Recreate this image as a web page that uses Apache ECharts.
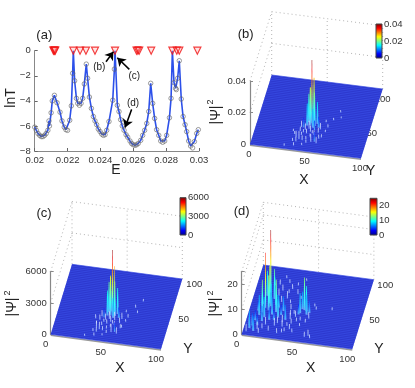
<!DOCTYPE html>
<html>
<head>
<meta charset="utf-8">
<style>html,body{margin:0;background:#fff}#chart{width:415px;height:388px}</style>
<script src="https://cdn.jsdelivr.net/npm/echarts@6/dist/echarts.min.js"></script>
</head>
<body>
<div id="chart"></div>
<script>
// panel (a): circles
const sampleE = [.0200,.0201,.0202,.0203,.0204,.0205,.0206,.0207,.0208,.0209,.0210,.02087,.02107,.0212,.02136,.02154,.02166,.0218,.0219,.0220,.02213,.02223,.02231,.02243,.02254,.02262,.02272,.02282,.02292,.02302,.02314,.02322,.02333,.02345,.02357,.02367,.02377,.02387,.02398,.02408,.02418,.02428,.02438,.02452,.02475,.02485,.02503,.02513,.02523,.02533,.02544,.02556,.02566,.0258,.0259,.026,.0261,.0262,.0263,.02645,.02657,.02669,.02682,.02694,.02706,.02718,.0273,.02742,.02755,.02767,.02779,.02791,.02803,.0282,.0283,.02848,.02858,.02862,.0287,.0288,.02892,.02903,.02915,.02925,.02937,.02949,.02961,.02972,.02986,.02996]
const sampleT = [-6.1,-6.35,-6.6,-6.75,-6.85,-6.85,-6.75,-6.6,-6.35,-6.0,-4.95,-5.6,-4.0,-3.56,-4.15,-4.9,-5.6,-6.1,-6.3,-6.35,-5.55,-4.4,-1.8,-2.4,-3.8,-4.2,-4.35,-4.2,-3.8,-2.65,-1.07,-2.2,-3.7,-4.6,-5.25,-5.6,-5.9,-6.25,-6.45,-6.65,-6.75,-6.7,-6.35,-5.65,-3.95,-1.47,-4.35,-4.85,-5.5,-6,-6.35,-6.7,-6.9,-7.2,-7.4,-7.5,-7.55,-7.5,-7.4,-7.15,-6.75,-6.35,-5.8,-4.85,-2.6,-4.2,-5.4,-6.3,-6.75,-7.2,-7.3,-7.2,-6.75,-5.35,-3.8,-2.55,-3.0,-3.1,-2.2,-0.8,-3.85,-5.25,-5.9,-6.45,-7.2,-7.6,-7.75,-7.25,-6.6,-6.3]
// line vertices at the resonance tops, between the circles
const topE = [.02235,.02489,.02838]
const topT = [0,0,0]
const resonanceE = [.02114,.02118,.02122,.02125,.02235,.02276,.02312,.02367,.02489,.0262,.02628,.02636,.02709,.02838,.02865,.0288,.0299]

// panels (b), (c), (d): peaks of |psi|^2 as [X, Y, height]
const peaksB = [[48,40,.04],[46,43,.021],[47,37,.024],[49.5,42,.028],[51,37,.021],[44.5,36,.014],[53,40,.014],[45,41,.018],[50,34,.012],[42,33,.006],[55,35,.007],[47,32,.005],[52,31,.006],[44,30,.004],[49,28,.004],[40,27,.003],[56,28,.003],[46,25,.003],[53,24,.003],[42,22,.002],[50,21,.002],[38,18,.004],[41,16,.005],[44,15,.003],[52,14,.005],[55,15,.006],[57,13,.004],[48,12,.002],[36,12,.002],[60,22,.002],[63,37,.002],[66,48,.0015],[70,60,.0015],[72,52,.0012],[30,4,.0015],[38,6,.002],[45,8,.0015],[60,44,.0015],[40,33,.004],[57,33,.004],[43,26,.002],[51,26,.002],[36,22,.002],[58,20,.0025],[39,12,.003],[47,17,.002],[62,30,.0015],[34,26,.0015]]
const peaksC = [[48,41,6000],[46,43,3400],[47,37,3700],[49.5,42,4400],[51,37,3300],[44.5,36,2400],[53,40,2500],[45,41,2900],[50,34,1900],[42,33,900],[55,35,1000],[47,32,700],[52,31,800],[44,30,600],[49,28,600],[39,29,500],[57,28,500],[46,25,400],[53,24,400],[42,22,350],[50,21,300],[38,18,600],[41,16,700],[44,15,400],[52,14,800],[55,15,900],[57,13,600],[48,12,300],[36,12,300],[60,22,300],[63,37,350],[67,52,300],[72,62,250],[70,45,250],[30,4,200],[38,6,300],[45,8,200],[60,44,250],[40,34,600],[58,34,600],[35,30,400],[43,27,300],[51,26,350],[37,23,300],[59,21,400],[39,12,450],[47,18,300],[62,31,250]]
const peaksD = [[14,63,25],[13.5,41,22],[48,45,13],[16,48,15],[17,38,14],[12,34,13],[19,55,12],[24,37,13],[27,30,9],[10,30,8],[22,47,8],[15,28,8],[30,40,6],[34,28,6],[20,25,5],[7,14,5],[5,10,7],[9,7,6],[11,16,4],[3,5,3],[8,22,4],[26,18,3],[33,18,2.5],[38,30,2.5],[40,24,2],[36,44,2],[30,58,3],[24,68,2.5],[32,72,2],[38,66,2],[28,80,1.5],[42,86,1],[20,76,2],[18,18,3],[22,10,2],[30,8,2],[14,5,2],[45,40,8],[46,46,7],[50,44,10],[51,39,8],[44,38,4],[53,42,5],[42,34,2.5],[54,34,2.5],[47,30,1.5],[52,28,1.5],[40,16,2],[43,12,1.5],[55,8,2],[58,10,2.5],[60,7,1.5],[48,22,1.2],[72,50,1.2],[36,12,1.5],[56,52,1.2],[12,58,10],[18,44,9],[21,33,7],[14,22,6],[6,18,3],[25,44,5],[29,34,4],[32,24,3],[37,36,2],[26,52,2.5],[22,60,3],[34,52,1.5],[42,60,1.2],[30,66,1.5],[36,78,1.2],[24,86,1.2],[16,74,4],[10,46,5],[8,36,4],[4,14,3],[12,10,3],[16,12,2],[24,26,4],[28,22,2.5],[37,20,1.5],[34,10,1.5],[44,28,1.5],[40,38,1.5],[58,48,1.2]]

const zTicksB = [0, .02, .04]
const zTicksC = [0, 3000, 6000]
const zTicksD = [0, 10, 20]
const planeTicks = [0, 50, 100]

const FONT = '"Liberation Sans", Arial, sans-serif'
const JET = [[0,'#00008f'],[.125,'#0000ff'],[.375,'#00ffff'],[.625,'#ffff00'],[.875,'#ff0000'],[1,'#800000']]

const panels = [
  { name: '(b)', peaks: peaksB, zMax: .04, zTicks: zTicksB, O: [250, 144.3], vx: [111, 14], vy: [21.7, -69.3], h: 63.3,
    xOff: [-1, 10.5], yOff: [0, 10], bar: [376, 24, 6, 34], nameAt: [245.7, 34], xAt: [304, 180], yAt: [370.7, 171], psi: [215.7, 115], sup: [211, 102] },
  { name: '(c)', peaks: peaksC, zMax: 6000, zTicks: zTicksC, O: [50.7, 334.3], vx: [110.3, 14.7], vy: [21.3, -70], h: 62.7,
    xOff: [-5, 10.5], yOff: [12, 5.7], bar: [180, 197.7, 6, 37.3], nameAt: [44, 213], xAt: [120, 368], yAt: [188, 349.3], psi: [12.3, 307], sup: [8, 293] },
  { name: '(d)', peaks: peaksD, zMax: 25, zTicks: zTicksD, O: [241.7, 334.3], vx: [110.6, 14.7], vy: [21.6, -69.3], h: 62.7,
    xOff: [-5, 10.5], yOff: [11.4, 5.7], bar: [370, 198.3, 7, 36.7], nameAt: [241.7, 211.7], xAt: [310.7, 367.7], yAt: [379, 349], psi: [215, 307], sup: [210.5, 293] }
]

function project(p, X, Y, Z) {
  return [
    p.O[0] + p.vx[0] * X / 100 + p.vy[0] * Y / 100,
    p.O[1] + p.vx[1] * X / 100 + p.vy[1] * Y / 100 - p.h * Z / p.zMax
  ]
}

function jetAt(t) {
  for (let i = 1; i < JET.length; i++) {
    if (t <= JET[i][0]) {
      const r = (t - JET[i - 1][0]) / (JET[i][0] - JET[i - 1][0])
      return echarts.color.lerp(r, [JET[i - 1][1], JET[i][1]])
    }
  }
  return JET[JET.length - 1][1]
}

function spikeFill(frac) {
  if (frac < .15) {
    return new echarts.graphic.LinearGradient(0, 1, 0, 0, [{ offset: 0, color: '#7f9cf8' }, { offset: 1, color: '#eef3ff' }])
  }
  const stops = [{ offset: 0, color: '#6f9cf8' }]
  for (let i = 1; i <= 6; i++) {
    const t = i / 6
    const c = jetAt(.28 + (frac - .28) * t)
    stops.push({ offset: t, color: echarts.color.lerp(.3 * (1 - t), [c, '#ffffff']) })
  }
  return new echarts.graphic.LinearGradient(0, 1, 0, 0, stops)
}

const grids = [
  { id: 'stage', left: 0, top: 0, width: 415, height: 388 },
  { id: 'a', left: 34.7, top: 50.7, width: 164.3, height: 100.3 }
]
const xAxes = [
  { gridIndex: 0, type: 'value', min: 0, max: 415, show: false },
  {
    gridIndex: 1, type: 'value', min: .02, max: .03, interval: .002,
    axisLine: { onZero: false, lineStyle: { color: '#888', width: 1.2 } },
    axisTick: { inside: true, length: 3, lineStyle: { color: '#666' } },
    axisLabel: { color: '#333', fontSize: 9.5, fontFamily: FONT, margin: 4, formatter: v => String(+v.toFixed(3)) },
    splitLine: { show: false }
  }
]
const yAxes = [
  { gridIndex: 0, type: 'value', min: 0, max: 388, inverse: true, show: false },
  {
    gridIndex: 1, type: 'value', min: -8, max: 0, interval: 2,
    axisLine: { show: true, onZero: false, lineStyle: { color: '#888' } },
    axisTick: { show: true, inside: true, length: 3, lineStyle: { color: '#666' } },
    axisLabel: { color: '#333', fontSize: 9.5, fontFamily: FONT, margin: 4, formatter: v => String(v).replace('-', '\u2212') },
    splitLine: { show: false }
  }
]

const lineData = sampleE.map((e, i) => [e, sampleT[i]])
  .concat(topE.map((e, i) => [e, topT[i]]))
  .sort((p, q) => p[0] - q[0])

const series = [
  {
    type: 'line', xAxisIndex: 1, yAxisIndex: 1, data: lineData, showSymbol: false, z: 3, clip: false,
    lineStyle: { color: '#2c50ea', width: 1.6 },
    markLine: {
      silent: true, symbol: ['none', 'arrow'], symbolSize: 8, animation: false, z: 8,
      lineStyle: { color: '#000', width: 1.5, type: 'solid' }, label: { show: false },
      data: [
        [{ coord: [.02434, -.88] }, { coord: [.02479, -.08] }],
        [{ coord: [.02576, -1.49] }, { coord: [.02503, -.56] }],
        [{ coord: [.0259, -4.68] }, { coord: [.0255, -6.12] }]
      ]
    }
  },
  {
    type: 'scatter', xAxisIndex: 1, yAxisIndex: 1, z: 4, symbol: 'circle', symbolSize: 4.5,
    data: sampleE.map((e, i) => [e, sampleT[i]]),
    itemStyle: { color: 'rgba(255,255,255,0)', borderColor: '#666', borderWidth: .8 }
  },
  {
    type: 'scatter', xAxisIndex: 1, yAxisIndex: 1, z: 5, symbol: 'triangle', symbolRotate: 180, symbolSize: 7, clip: false,
    data: resonanceE.map(e => [e, 0]),
    itemStyle: { color: 'rgba(255,140,140,.3)', borderColor: '#f01010', borderWidth: 1.2 }
  }
]

const graphicText = []
function addText(text, at, size, rotation) {
  graphicText.push({
    type: 'text', x: at[0], y: at[1], rotation: rotation || 0, z: 20, silent: true,
    style: { text, font: size + 'px ' + FONT, fill: '#222', textAlign: 'center', textVerticalAlign: 'middle' }
  })
}
addText('(a)', [44.3, 35], 13)
addText('E', [116, 170], 14)
addText('lnT', [11, 98], 14, Math.PI / 2)
addText('(b)', [99.3, 67.3], 10)
addText('(c)', [134.3, 76], 10)
addText('(d)', [133, 103], 10)

panels.forEach(p => {
  const tickText = v => p.zTicks.includes(v) ? String(v) : ''
  // real axes: the vertical one and the colour bar
  const zGrid = grids.length
  grids.push({ left: p.O[0], top: p.O[1] - p.h, width: 1, height: p.h })
  xAxes.push({ gridIndex: zGrid, type: 'value', show: false })
  yAxes.push({
    gridIndex: zGrid, type: 'value', min: 0, max: p.zMax, interval: p.zTicks[1], z: 2,
    axisLine: { show: true, onZero: false, lineStyle: { color: '#888', width: 1.2 } },
    axisTick: { show: true, inside: true, length: 3, lineStyle: { color: '#888' } },
    axisLabel: { color: '#333', fontSize: 9.5, fontFamily: FONT, margin: 4, formatter: tickText },
    splitLine: { show: false }
  })
  const barGrid = grids.length
  grids.push({ left: p.bar[0], top: p.bar[1], width: p.bar[2], height: p.bar[3], show: true, borderColor: '#444', borderWidth: 1, backgroundColor: 'transparent', z: 6 })
  xAxes.push({ gridIndex: barGrid, type: 'value', min: 0, max: 1, show: false })
  yAxes.push({
    gridIndex: barGrid, type: 'value', min: 0, max: p.zMax, interval: p.zTicks[1], position: 'right',
    axisLine: { show: false }, axisTick: { show: false }, splitLine: { show: false },
    axisLabel: { color: '#333', fontSize: 9.5, fontFamily: FONT, margin: 2, formatter: tickText }
  })
  series.push({
    type: 'custom', xAxisIndex: xAxes.length - 1, yAxisIndex: yAxes.length - 1, z: 5, silent: true, data: [[0, p.zMax]],
    renderItem: (params, api) => {
      const a = api.coord([0, p.zMax])
      const b = api.coord([1, 0])
      return {
        type: 'rect', shape: { x: a[0], y: a[1], width: b[0] - a[0], height: b[1] - a[1] },
        style: { fill: new echarts.graphic.LinearGradient(0, 1, 0, 0, JET.map(s => ({ offset: s[0], color: s[1] }))) }
      }
    }
  })

  // dotted box behind the surface
  const levels = p.zTicks.slice(1).concat(p.zTicks.includes(p.zMax) ? [] : [p.zMax])
  const boxLines = []
  levels.forEach(z => {
    boxLines.push([[0, 0, z], [0, 100, z]], [[0, 100, z], [100, 100, z]])
  })
  boxLines.push([[0, 100, 0], [0, 100, p.zMax]], [[50, 100, 0], [50, 100, p.zMax]], [[100, 100, 0], [100, 100, p.zMax]])
  series.push({
    type: 'custom', xAxisIndex: 0, yAxisIndex: 0, z: 1, silent: true, clip: false, data: boxLines.map((l, i) => [i, 0]),
    renderItem: (params, api) => {
      const l = boxLines[params.dataIndex]
      const a = api.coord(project(p, ...l[0]))
      const b = api.coord(project(p, ...l[1]))
      return { type: 'line', shape: { x1: a[0], y1: a[1], x2: b[0], y2: b[1] }, style: { stroke: '#b4b4b4', lineWidth: 1, lineDash: [1, 3] } }
    }
  })

  // tick labels on the slanted axes, under the floor
  const labels = []
  planeTicks.forEach(t => {
    labels.push({ text: String(t), pos: project(p, t, 0, 0), off: p.xOff })
    if (t > 0) labels.push({ text: String(t), pos: project(p, 100, t, 0), off: p.yOff })
  })
  series.push({
    type: 'custom', xAxisIndex: 0, yAxisIndex: 0, z: 2, silent: true, clip: false, data: labels.map((l, i) => [i, 0]),
    renderItem: (params, api) => {
      const l = labels[params.dataIndex]
      const c = api.coord(l.pos)
      return {
        type: 'text', x: c[0] + l.off[0], y: c[1] + l.off[1],
        style: { text: l.text, font: '9.5px ' + FONT, fill: '#333', textAlign: 'center', textVerticalAlign: 'middle' }
      }
    }
  })

  // floor: flat surface with its mesh rows
  const meshRows = Array.from({ length: 41 }, (_, i) => i * 2.5)
  series.push({
    type: 'custom', xAxisIndex: 0, yAxisIndex: 0, z: 3, silent: true, clip: false, data: [[0, 0]],
    renderItem: (params, api) => {
      const corners = [[0, 0], [100, 0], [100, 100], [0, 100]].map(c => api.coord(project(p, c[0], c[1], 0)))
      const edgeA = api.coord(project(p, 0, 0, 0))
      const edgeB = api.coord(project(p, 100, 0, 0))
      return {
        type: 'group',
        children: [
          { type: 'line', shape: { x1: edgeA[0], y1: edgeA[1] + 1, x2: edgeB[0], y2: edgeB[1] + 1 }, style: { stroke: '#999', lineWidth: 1.5 } },
          { type: 'polygon', shape: { points: corners }, style: { fill: '#2b36cc' } }
        ].concat(meshRows.map(r => {
          const a = api.coord(project(p, 0, r, 0))
          const b = api.coord(project(p, 100, r, 0))
          return { type: 'line', shape: { x1: a[0], y1: a[1], x2: b[0], y2: b[1] }, style: { stroke: '#3a4fe6', lineWidth: .7 } }
        }))
      }
    }
  })

  // spikes, far ones first; tall ones keep a blunt tip so their top colour shows
  const peaks = p.peaks.slice().sort((m, n) => n[1] - m[1])
  series.push({
    type: 'custom', xAxisIndex: 0, yAxisIndex: 0, z: 4, silent: true, clip: false, data: peaks.map((m, i) => [i, 0]),
    renderItem: (params, api) => {
      const m = peaks[params.dataIndex]
      const frac = m[2] / p.zMax
      const w = frac > .7 ? .7 : frac > .15 ? 1 : .55
      const tip = frac > .15 ? w * .3 : w * .5
      const pts = [
        project(p, m[0] - w, m[1], 0),
        project(p, m[0] - tip, m[1], m[2]),
        project(p, m[0] + tip, m[1], m[2]),
        project(p, m[0] + w, m[1], 0)
      ].map(q => api.coord(q))
      return { type: 'polygon', shape: { points: pts }, style: { fill: spikeFill(frac) } }
    }
  })

  addText(p.name, p.nameAt, 13)
  addText('X', p.xAt, 14)
  addText('Y', p.yAt, 14)
  addText('|\u03a8|', p.psi, 14, Math.PI / 2)
  addText('2', p.sup, 9, Math.PI / 2)
})

const chart = echarts.init(document.getElementById('chart'), null, { renderer: 'canvas' })
chart.setOption({
  animation: false,
  backgroundColor: '#fff',
  grid: grids,
  xAxis: xAxes,
  yAxis: yAxes,
  series,
  graphic: { elements: graphicText }
})
</script>
</body>
</html>
